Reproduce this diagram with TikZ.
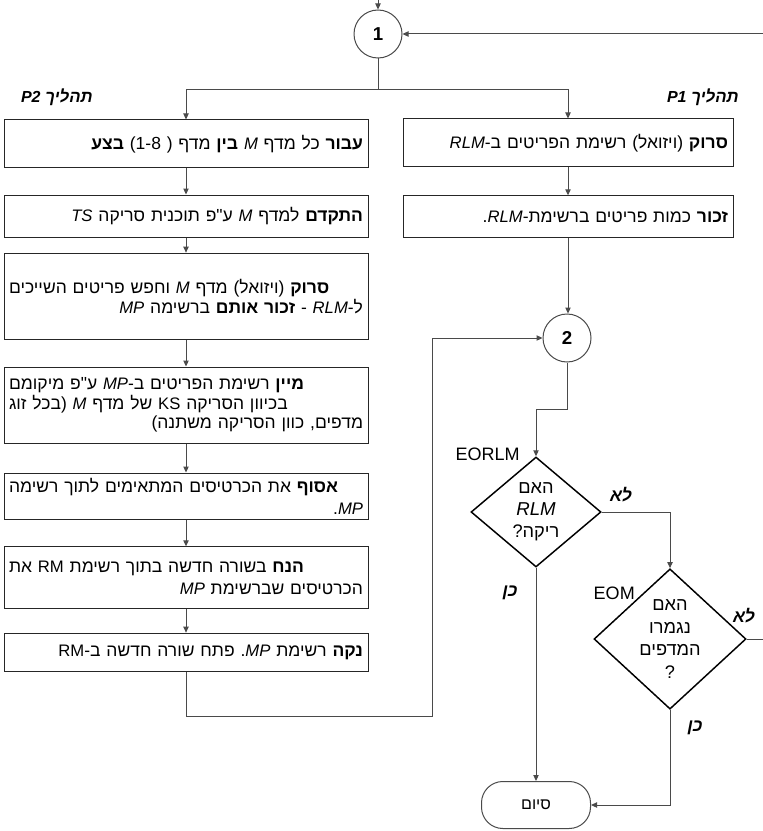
\documentclass[tikz,border=0pt]{standalone}
\usepackage{fontspec}
\setmainfont{Liberation Sans}
\newfontfamily\heb[Script=Hebrew,Scale=1.05]{Liberation Sans}
\TeXXeTstate=1
\usetikzlibrary{shapes.geometric,arrows.meta,positioning}
\definecolor{linegray}{HTML}{4A4A4A}
\newcommand\lat[1]{\beginL{\rmfamily #1}\endL}
\newcommand\rlline[1]{\beginR #1\endR}
\newcommand\rlfull[1]{\noindent\hbox to\hsize{\beginR #1\endR}}
\tikzset{
    procbox/.style={
        rectangle,
        draw=black!85,
        line width=0.75pt,
        align=right,
        inner xsep=3.75pt,
        inner ysep=3pt,
        font=\heb\fontsize{12.5}{14.5}\selectfont
    },
    leftbox/.style={procbox, text width=265.5pt},
    rightbox/.style={procbox, text width=240pt},
    decision/.style={
        diamond,
        draw=black,
        line width=1.1pt,
        align=center,
        inner sep=0pt,
        font=\heb\fontsize{13}{16.5}\selectfont
    },
    joint/.style={circle, draw=linegray, line width=0.75pt, minimum size=36pt,
        inner sep=0pt, font=\bfseries\fontsize{14}{16}\selectfont},
    terminal/.style={rectangle, rounded corners=16pt, draw=linegray, line width=0.75pt,
        minimum width=81.75pt, minimum height=35.25pt, font=\heb\fontsize{11.5}{14}\selectfont},
    flow/.style={
        -{Triangle[length=4.5pt,width=4pt]},
        draw=linegray,
        line width=0.75pt
    },
    tag/.style={inner sep=0pt, font=\heb\bfseries\itshape\fontsize{12.5}{15}\selectfont},
    phase/.style={inner sep=0pt, anchor=east, font=\heb\bfseries\itshape\fontsize{12}{14}\selectfont},
    code/.style={inner sep=0pt, font=\fontsize{13.5}{16}\selectfont}
}

\begin{document}
\begin{tikzpicture}[x=0.75pt, y=-0.75pt]
\useasboundingbox (0,0) rectangle (763,831);

% connectors 1 and 2
\coordinate (entry) at (378,0);
\node[joint] (c1) at (378,34) {1};
\node[joint] (c2) at (567,338) {2};

% process P2
\node[phase] (p2) at (93,97) {\rlline{תהליך \lat{P2}}};
\node[leftbox, minimum height=36pt] (l1) at (186,144) {\rlline{\textbf{עבור} כל מדף \lat{\textit{M}} \textbf{בין} מדף ( 1-8) \textbf{בצע}}};
\node[leftbox, minimum height=31.5pt] (l2) at (186,216) {\rlline{\textbf{התקדם} למדף \lat{\textit{M}} ע"פ תוכנית סריקה \lat{\textit{TS}}}};
\node[leftbox, minimum height=65pt] (l3) at (186,296.5) {\rlfull{\textbf{סרוק} (ויזואל) מדף \lat{\textit{M}} וחפש פריטים השייכים}\\
    \rlline{ל-\lat{\textit{RLM}} - \textbf{זכור אותם} ברשימה \lat{\textit{MP}}}};
\node[leftbox, minimum height=57pt] (l4) at (186,405) {\rlfull{\textbf{מיין} רשימת הפריטים ב-\lat{\textit{MP}} ע"פ מיקומם}\\
    \rlfull{בכיוון הסריקה \lat{KS} של מדף \lat{\textit{M}} (בכל זוג}\\
    \rlline{מדפים, כוון הסריקה משתנה)}};
\node[leftbox, minimum height=34.5pt] (l5) at (186,496) {\rlfull{\textbf{אסוף} את הכרטיסים המתאימים לתוך רשימה}\\[2pt]
    \rlline{\lat{\textit{MP}}.}};
\node[leftbox, minimum height=46pt] (l6) at (186,577.5) {\rlfull{\textbf{הנח} בשורה חדשה בתוך רשימת \lat{RM} את}\\[2pt]
    \rlline{הכרטיסים שברשימת \lat{\textit{MP}}}};
\node[leftbox, minimum height=29pt] (l7) at (186,652.5) {\rlline{\textbf{נקה} רשימת \lat{\textit{MP}}. פתח שורה חדשה ב-\lat{RM}}};

% process P1
\node[phase] (p1) at (739,97) {\rlline{תהליך \lat{P1}}};
\node[rightbox, minimum height=36pt] (r1) at (568,143) {\rlline{\textbf{סרוק} (ויזואל) רשימת הפריטים ב-\lat{\textit{RLM}}}};
\node[rightbox, minimum height=31pt] (r2) at (568,216.5) {\rlline{\textbf{זכור} כמות פריטים ברשימת-\lat{\textit{RLM}}.}};

% decisions
\node[decision, minimum width=97.5pt, minimum height=82.5pt] (d1) at (536,512) {\rlline{האם}\\ \lat{\fontsize{14}{16.5}\selectfont\textit{RLM}}\\ \rlline{ריקה?}};
\node[decision, minimum width=114pt, minimum height=83pt, font=\heb\fontsize{13}{17}\selectfont] (d2) at (670,639) {\rlline{האם}\\ \rlline{נגמרו}\\ \rlline{המדפים}\\ ?};
\node[code, anchor=east] (eorlm) at (520,454) {EORLM};
\node[code, anchor=east] (eom) at (635,593) {EOM};
\node[tag] (no1) at (621,495) {\rlline{לא}};
\node[tag] (no2) at (744,616) {\rlline{לא}};
\node[tag] (yes1) at (510,593) {\rlline{כן}};
\node[tag] (yes2) at (695,728) {\rlline{כן}};

\node[terminal] (end) at (536,805) {\rlline{סיום}};

% flow lines
\coordinate (fork) at (378,90);
\coordinate (loopfoot) at (432,716);
\coordinate (jog) at (567,409);
\coordinate (backturn) at (775,639);

\draw[flow] (entry) -- (c1.north);
\draw[flow] (c1.south) -- (fork) -| (l1.north);
\draw[flow] (fork) -| (r1.north);
\draw[flow] (l1) -- (l2);
\draw[flow] (l2) -- (l3);
\draw[flow] (l3) -- (l4);
\draw[flow] (l4) -- (l5);
\draw[flow] (l5) -- (l6);
\draw[flow] (l6) -- (l7);
\draw[flow] (l7.south) |- (loopfoot) |- (c2.west);
\draw[flow] (r1) -- (r2);
\draw[flow] (r2.south) -- (r2.south |- c2.north);
\draw[flow] (c2.south) -- (jog) -| (d1.north);
\draw[flow] (d1.east) -| (d2.north);
\draw[flow] (d1.south) -- (end.north);
\draw[flow] (d2.south) |- (end.east);
\draw[flow] (d2.east) -- (backturn) |- (c1.east);

\end{tikzpicture}
\end{document}
